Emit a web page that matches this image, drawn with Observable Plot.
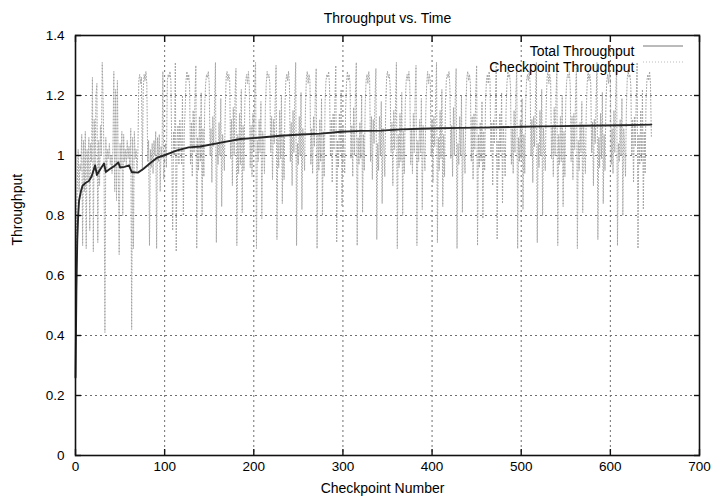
<!DOCTYPE html>
<html><head><meta charset="utf-8">
<script src="https://cdn.jsdelivr.net/npm/d3@7"></script>
<script src="https://cdn.jsdelivr.net/npm/@observablehq/plot@0.6"></script>
<style>
body{margin:0;background:#fff;}
#chart{width:716px;height:501px;}
</style></head><body><div id="chart"></div>
<script>
// ---- data ----
const xTicks = [0, 100, 200, 300, 400, 500, 600, 700];
const yTicks = [0, 0.2, 0.4, 0.6, 0.8, 1, 1.2, 1.4];
const yTickLabels = ["0", "0.2", "0.4", "0.6", "0.8", "1", "1.2", "1.4"];
const seriesNames = ["Total Throughput", "Checkpoint Throughput"];

// Total throughput (checkpoint number, value)
const totalCheckpoint = [0,1,2,3,4,6,8,12,15,18,22,24,28,32,34,40,44,48,50,55,60,63,66,70,76,84,92,99,106,114,127,140,163,185,208,230,253,275,298,320,343,365,387,410,432,455,477,500,522,545,567,590,612,634,646];
const totalValue = [0.26,0.55,0.72,0.80,0.85,0.88,0.90,0.91,0.915,0.93,0.967,0.935,0.955,0.973,0.945,0.958,0.966,0.977,0.96,0.962,0.967,0.945,0.944,0.943,0.955,0.975,0.993,1.0,1.008,1.017,1.027,1.03,1.043,1.055,1.06,1.066,1.07,1.073,1.079,1.082,1.083,1.087,1.089,1.091,1.092,1.093,1.094,1.096,1.097,1.098,1.099,1.1,1.101,1.102,1.103];

// Checkpoint throughput, checkpoints 0..123 (start-up phase)
const checkpointEarly = [
  0.26,0.74,0.90,1.02,0.88,0.97,
  0.95,1.07,0.70,1.05,0.88,1.08,0.69,1.02,0.92,1.06,0.75,1.04,
  0.98,1.26,0.68,1.12,0.95,1.20,1.24,0.71,1.05,0.90,1.10,1.00,
  1.31,1.18,0.98,0.41,1.06,0.95,
  1.02,0.99,1.04,0.97,1.00,0.94,1.03,
  1.28,0.88,1.22,0.85,1.25,0.95,
  0.67,1.04,0.96,1.08,0.80,1.07,0.98,
  1.02,0.97,1.05,0.99,1.03,0.96,
  1.09,0.42,1.06,0.69,1.08,
  0.99,1.02,0.95,1.01,
  1.25,1.27,1.24,1.26,0.95,1.22,1.27,1.25,1.28,1.24,0.98,1.05,0.70,1.02,0.96,1.04,
  0.94,1.05,1.00,1.08,0.69,1.06,0.98,1.07,0.88,1.03,0.99,
  1.28,0.92,
  1.00,1.04,0.96,1.25,1.27,1.26,1.28,1.25,1.02,0.75,1.08,
  1.00,1.31,0.68,1.05,1.10,0.97,1.12,
  1.05,0.97,1.20,0.80,1.08,1.15
];
// Checkpoint throughput, checkpoints 124..646 (one row per cycle)
const checkpointCycles = [
  [1.25,1.28,1.25,1.27,1.23,0.97,1.11,0.93,1.15,1.01,1.19,1.30,0.69,1.06,0.95,1.13,0.98,1.21,0.80,1.09,0.93,1.17],
  [1.24,1.27,1.26,1.28,1.24,1.00,1.09,0.91,1.13,1.03,1.17,1.31,0.71,1.04,0.97,1.11,1.00,1.19,0.83,1.07,1.02,0.95,1.15],
  [1.26,1.28,1.25,1.27,1.25,0.99,1.12,0.90,1.16,1.00,1.20,1.29,0.70,1.07,0.94,1.14,0.97,1.22,0.81,1.10,0.95,1.18],
  [1.25,1.27,1.24,1.28,1.23,0.96,1.10,0.93,1.14,1.02,1.21,1.31,0.69,1.05,0.98,1.12,1.01,1.18,0.79,1.08,1.03,0.94,1.16],
  [1.24,1.28,1.26,1.27,1.24,1.01,1.13,0.92,1.12,1.04,1.18,1.30,0.72,1.06,0.96,1.15,0.99,1.20,0.84,1.07,0.92,1.17],
  [1.25,1.27,1.25,1.28,1.24,0.98,1.11,0.90,1.15,1.01,1.19,1.31,0.70,1.04,0.97,1.13,1.00,1.21,0.82,1.09,1.02,0.95,1.16],
  [1.26,1.28,1.24,1.27,1.25,0.97,1.09,0.94,1.13,1.03,1.20,1.29,0.69,1.07,0.95,1.12,0.98,1.19,0.80,1.08,0.93,1.18],
  [1.25,1.27,1.26,1.28,1.23,1.00,1.12,0.91,1.14,1.02,1.18,1.30,0.71,1.05,0.96,1.14,1.01,1.22,0.83,1.10,1.01,0.94,1.15],
  [1.24,1.28,1.25,1.27,1.24,0.99,1.10,0.93,1.16,1.00,1.21,1.31,0.70,1.06,0.97,1.11,0.99,1.20,0.81,1.07,0.95,1.17],
  [1.25,1.27,1.24,1.28,1.25,0.98,1.13,0.92,1.12,1.04,1.19,1.29,0.72,1.04,0.95,1.13,1.00,1.18,0.84,1.09,1.03,0.93,1.16],
  [1.26,1.28,1.26,1.27,1.23,1.01,1.11,0.90,1.15,1.02,1.17,1.31,0.69,1.07,0.96,1.14,0.98,1.21,0.80,1.08,0.94,1.18],
  [1.25,1.27,1.25,1.28,1.24,0.97,1.09,0.94,1.14,1.01,1.20,1.30,0.70,1.05,0.98,1.12,1.01,1.19,0.82,1.10,1.02,0.95,1.15],
  [1.24,1.28,1.24,1.27,1.25,1.00,1.12,0.91,1.13,1.03,1.18,1.31,0.71,1.06,0.95,1.15,0.99,1.22,0.83,1.07,0.93,1.17],
  [1.25,1.27,1.26,1.28,1.23,0.99,1.10,0.93,1.16,1.00,1.19,1.29,0.69,1.04,0.97,1.13,1.00,1.20,0.81,1.09,1.01,0.94,1.16],
  [1.26,1.28,1.25,1.27,1.24,0.98,1.13,0.92,1.14,1.02,1.21,1.30,0.70,1.07,0.96,1.11,0.98,1.18,0.79,1.08,0.95,1.18],
  [1.25,1.27,1.24,1.28,1.25,1.01,1.11,0.90,1.12,1.04,1.17,1.31,0.72,1.05,0.95,1.14,1.01,1.21,0.84,1.10,1.03,0.93,1.15],
  [1.24,1.28,1.26,1.27,1.23,0.97,1.09,0.94,1.15,1.01,1.20,1.30,0.69,1.06,0.98,1.12,0.99,1.19,0.82,1.07,0.94,1.17],
  [1.25,1.27,1.25,1.28,1.24,1.00,1.12,0.91,1.13,1.03,1.18,1.31,0.71,1.04,0.96,1.15,1.00,1.22,0.80,1.09,1.02,0.95,1.16],
  [1.26,1.28,1.24,1.27,1.25,0.99,1.10,0.93,1.16,1.00,1.19,1.29,0.70,1.07,0.97,1.13,0.98,1.20,0.83,1.08,0.93,1.18],
  [1.25,1.27,1.26,1.28,1.23,0.98,1.13,0.92,1.14,1.02,1.21,1.30,0.69,1.05,0.95,1.11,1.01,1.18,0.81,1.10,1.01,0.94,1.15],
  [1.24,1.28,1.25,1.27,1.24,1.01,1.11,0.90,1.12,1.04,1.17,1.31,0.72,1.06,0.96,1.14,0.99,1.21,0.84,1.07,0.95,1.17],
  [1.25,1.27,1.24,1.28,1.25,0.97,1.09,0.94,1.15,1.01,1.20,1.30,0.70,1.04,0.98,1.12,1.00,1.19,0.80,1.09,1.03,0.93,1.16],
  [1.26,1.28,1.26,1.27,1.23,1.00,1.12,0.91,1.13,1.03,1.18,1.31,0.69,1.07,0.97,1.15,0.98,1.22,0.82,1.08,0.94,1.18],
  [1.25,1.27,1.25,1.28,1.24,1.06]
];

// ---- build tables ----
const checkpointValues = checkpointEarly.concat(...checkpointCycles);
const checkpointData = checkpointValues.map((v, i) => ({cp: i, v}));
const totalData = totalCheckpoint.map((c, i) => ({cp: c, v: totalValue[i]}));

const font = "'Liberation Sans', Arial, Helvetica, sans-serif";
const gridStyle = {stroke: "#6f6f6f", strokeOpacity: 1, strokeWidth: 1, strokeDasharray: "2,3"};
const noText = () => "";

const chart = Plot.plot({
  width: 716, height: 501,
  marginLeft: 75, marginRight: 17, marginTop: 35, marginBottom: 46,
  style: {fontFamily: font, fontSize: "13px", color: "#000", background: "#fff"},
  x: {domain: [0, 700]},
  y: {domain: [0, 1.4]},
  marks: [
    Plot.gridX(xTicks.slice(1, -1), gridStyle),
    Plot.gridY(yTicks.slice(1, -1), gridStyle),
    Plot.line(checkpointData, {x: "cp", y: "v", stroke: "#a4a4a4", strokeWidth: 1, strokeDasharray: "1,2"}),
    Plot.line(totalData, {x: "cp", y: "v", stroke: "#262626", strokeWidth: 1.9}),
    Plot.frame({stroke: "#111", strokeWidth: 1.6}),
    // tick labels
    Plot.axisX(xTicks, {anchor: "bottom", tickSize: 0, tickPadding: 6, label: null, fontSize: 13.5, fill: "#000"}),
    Plot.axisY(yTicks, {anchor: "left", tickSize: 0, tickPadding: 11, label: null, fontSize: 13.5, fill: "#000",
      tickFormat: d => yTickLabels[yTicks.indexOf(d)]}),
    // inward ticks on all four sides
    Plot.axisX(xTicks, {anchor: "bottom", tickSize: 6, dy: -6, tickFormat: noText, label: null, stroke: "#111", strokeWidth: 1.4}),
    Plot.axisX(xTicks, {anchor: "top", tickSize: 6, dy: 6, tickFormat: noText, label: null, stroke: "#111", strokeWidth: 1.4}),
    Plot.axisY(yTicks, {anchor: "left", tickSize: 6, dx: 6, tickFormat: noText, label: null, stroke: "#111", strokeWidth: 1.4}),
    Plot.axisY(yTicks, {anchor: "right", tickSize: 6, dx: -6, tickFormat: noText, label: null, stroke: "#111", strokeWidth: 1.4}),
    // titles
    Plot.text(["Throughput vs. Time"], {frameAnchor: "top", dy: -22, fontSize: 14, fill: "#000"}),
    Plot.text(["Throughput"], {frameAnchor: "left", dx: -58, rotate: -90, fontSize: 14, fill: "#000"}),
    Plot.text(["Checkpoint Number"], {frameAnchor: "bottom", dy: 37, dx: -5, fontSize: 14, fill: "#000"}),
    // legend text
    Plot.text([seriesNames[0]], {frameAnchor: "top-right", dx: -65, dy: 11, textAnchor: "end", fontSize: 14, fill: "#000"}),
    Plot.text([seriesNames[1]], {frameAnchor: "top-right", dx: -65, dy: 27, textAnchor: "end", fontSize: 14, fill: "#000"})
  ]
});

// legend line samples
const svg = d3.select(chart);
const xr = chart.scale("x").range, yr = chart.scale("y").range;
const lx2 = xr[1] - 16, lx1 = xr[1] - 56;
svg.append("line").attr("x1", lx1).attr("x2", lx2).attr("y1", yr[1] + 11).attr("y2", yr[1] + 11)
  .attr("stroke", "#777").attr("stroke-width", 1);
svg.append("line").attr("x1", lx1).attr("x2", lx2).attr("y1", yr[1] + 27).attr("y2", yr[1] + 27)
  .attr("stroke", "#bbb").attr("stroke-width", 1).attr("stroke-dasharray", "1,2");

document.getElementById("chart").appendChild(chart);
</script>
</body></html>
